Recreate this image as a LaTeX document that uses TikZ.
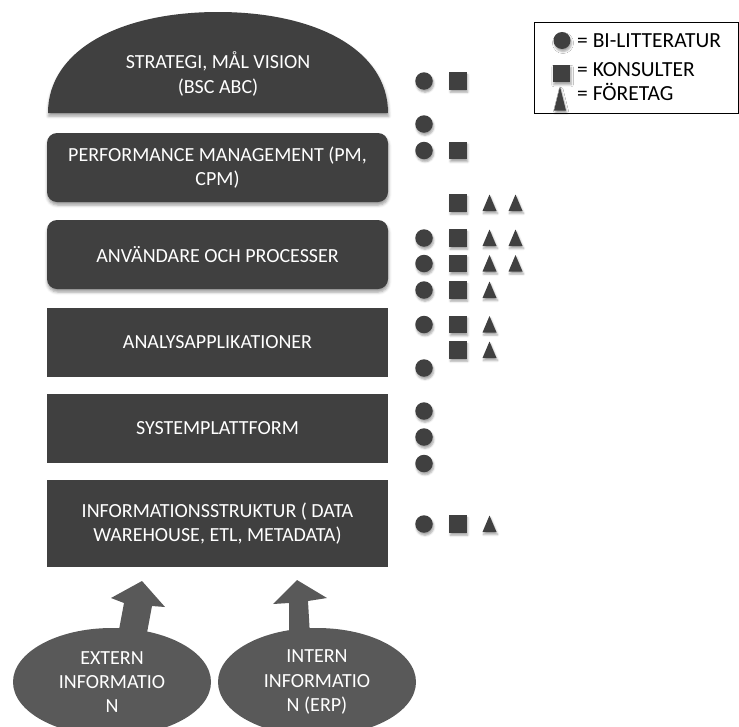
\documentclass[tikz,border=0pt]{standalone}
\usepackage{fontspec}
\setmainfont{Carlito}
\usetikzlibrary{shapes.geometric,shadows.blur}
\definecolor{boxgray}{RGB}{64,64,64}
\definecolor{infogray}{RGB}{89,89,89}

\begin{document}
\begin{tikzpicture}[x=1pt,y=-1pt,
  lbl/.style={text=white, font=\fontsize{20}{24.4}\selectfont, align=center},
  layer/.style={lbl, fill=boxgray, minimum width=341pt, inner sep=0pt},
  soft/.style={blur shadow={shadow xshift=0.5pt, shadow yshift=-3pt, shadow blur radius=3pt, shadow opacity=40}},
  msoft/.style={blur shadow={shadow xshift=1pt, shadow yshift=-2.5pt, shadow blur radius=2pt, shadow opacity=35}},
  dot/.style={circle, fill=boxgray, minimum size=17.5pt, inner sep=0pt, msoft},
  sq/.style={rectangle, fill=boxgray, minimum size=17.5pt, inner sep=0pt, msoft},
  pics/tri/.style={code={\fill[boxgray, msoft] (-7,8) -- (7,8) -- (0,-8.5) -- cycle;}},
  legtext/.style={anchor=base west, font=\fontsize{21.5}{26}\selectfont, inner sep=0pt}
]
\useasboundingbox (0,0) rectangle (739,726);
\clip (0,0) rectangle (739,726);

% top dome: strategy
\fill[boxgray, soft] (48,113) .. controls (48,50) and (120,12) .. (218,12)
  .. controls (316,12) and (388,50) .. (388,113) -- cycle;
\node[lbl] (strategi) at (218,74) {STRATEGI, MÅL VISION\\(BSC ABC)};

% stacked layers
\node[layer, rounded corners=10pt, minimum height=69pt, soft] (pm) at (217.5,167.5)
  {PERFORMANCE MANAGEMENT (PM,\\CPM)};
\node[layer, rounded corners=10pt, minimum height=69pt, soft] (anv) at (217.5,254.5)
  {ANVÄNDARE OCH PROCESSER};
\node[layer, minimum height=69pt] (analys) at (217.5,342.5) {ANALYSAPPLIKATIONER};
\node[layer, minimum height=69pt] (system) at (217.5,428.5) {SYSTEMPLATTFORM};
\node[layer, minimum height=87pt] (infra) at (217.5,523.5)
  {INFORMATIONSSTRUKTUR ( DATA\\WAREHOUSE, ETL, METADATA)};

% block arrows feeding the information structure
\fill[infogray] (142,581) -- (165,607) -- (152,606) -- (146.4,636) -- (118.2,634)
  -- (124,603) -- (111,598) -- cycle;
\fill[infogray] (297,580) -- (327,598) -- (308,601) -- (310,636) -- (289,636)
  -- (289,603) -- (273,604) -- cycle;

% information sources
\node[ellipse, fill=infogray, minimum width=198pt, minimum height=108pt, inner sep=0pt, lbl]
  (extern) at (112,682) {EXTERN\\INFORMATIO\\N};
\node[ellipse, fill=infogray, minimum width=198pt, minimum height=108pt, inner sep=0pt, lbl]
  (intern) at (317,682) {INTERN\\INFORMATIO\\N (ERP)};

% markers: circles
\foreach \y [count=\i] in {81,124,150.5,238,263.5,290,324.5,368,411,437,463.5,524}
  \node[dot] (c\i) at (424,\y) {};
% markers: squares
\foreach \y [count=\i] in {81,150.5,203,238,263.5,290,324.5,350,524}
  \node[sq] (s\i) at (458,\y) {};
% markers: triangles, first column
\foreach \y [count=\i] in {203,238,263.5,290,324.5,350,524}
  \pic (ta\i) at (489.5,\y) {tri};
% markers: triangles, second column
\foreach \y [count=\i] in {203,238,263.5}
  \pic (tb\i) at (515.5,\y) {tri};

% legend
\node[draw=black, line width=0.8pt, fill=white, minimum width=204pt, minimum height=91pt,
  inner sep=0pt] (legend) at (636,67.5) {};
\node[dot, minimum size=17pt] (lc) at (562,40.5) {};
\node[sq, minimum size=17.5pt] (ls) at (561.5,73.5) {};
\fill[boxgray, msoft] (554,110.7) -- (566,110.7) -- (560,86.7) -- cycle;
\node[legtext] (lt1) at (577,47) {= BI-LITTERATUR};
\node[legtext] (lt2) at (577,76.5) {= KONSULTER};
\node[legtext] (lt3) at (577,100.5) {= FÖRETAG};
\end{tikzpicture}
\end{document}
